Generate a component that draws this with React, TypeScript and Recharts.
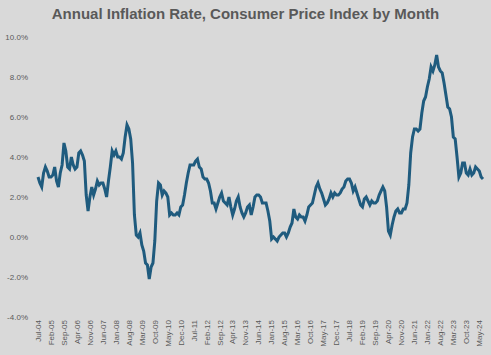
import React from "react";
import { LineChart, Line, XAxis, YAxis } from "recharts";

const MONTHS = ["Jan", "Feb", "Mar", "Apr", "May", "Jun", "Jul", "Aug", "Sep", "Oct", "Nov", "Dec"];

const y2004 = [null, null, null, null, null, null, 3.0, 2.7, 2.5, 3.2, 3.5, 3.3];
const y2005 = [3.0, 3.0, 3.1, 3.5, 2.8, 2.5, 3.2, 3.6, 4.7, 4.3, 3.5, 3.4];
const y2006 = [4.0, 3.6, 3.4, 3.5, 4.2, 4.3, 4.1, 3.8, 2.1, 1.3, 2.0, 2.5];
const y2007 = [2.1, 2.4, 2.8, 2.6, 2.7, 2.7, 2.4, 2.0, 2.8, 3.5, 4.3, 4.1];
const y2008 = [4.3, 4.0, 4.0, 3.9, 4.2, 5.0, 5.6, 5.4, 4.9, 3.7, 1.1, 0.1];
const y2009 = [0.0, 0.2, -0.4, -0.7, -1.3, -1.4, -2.1, -1.5, -1.3, -0.2, 1.8, 2.7];
const y2010 = [2.6, 2.1, 2.3, 2.2, 2.0, 1.1, 1.2, 1.1, 1.1, 1.2, 1.1, 1.5];
const y2011 = [1.6, 2.1, 2.7, 3.2, 3.6, 3.6, 3.6, 3.8, 3.9, 3.5, 3.4, 3.0];
const y2012 = [2.9, 2.9, 2.7, 2.3, 1.7, 1.7, 1.4, 1.7, 2.0, 2.2, 1.8, 1.7];
const y2013 = [1.6, 2.0, 1.5, 1.1, 1.4, 1.8, 2.0, 1.5, 1.2, 1.0, 1.2, 1.5];
const y2014 = [1.6, 1.1, 1.5, 2.0, 2.1, 2.1, 2.0, 1.7, 1.7, 1.7, 1.3, 0.8];
const y2015 = [-0.1, 0.0, -0.1, -0.2, 0.0, 0.1, 0.2, 0.2, 0.0, 0.2, 0.5, 0.7];
const y2016 = [1.4, 1.0, 0.9, 1.1, 1.0, 1.0, 0.8, 1.1, 1.5, 1.6, 1.7, 2.1];
const y2017 = [2.5, 2.7, 2.4, 2.2, 1.9, 1.6, 1.7, 1.9, 2.2, 2.0, 2.2, 2.1];
const y2018 = [2.1, 2.2, 2.4, 2.5, 2.8, 2.9, 2.9, 2.7, 2.3, 2.5, 2.2, 1.9];
const y2019 = [1.6, 1.5, 1.9, 2.0, 1.8, 1.6, 1.8, 1.7, 1.7, 1.8, 2.1, 2.3];
const y2020 = [2.5, 2.3, 1.5, 0.3, 0.1, 0.6, 1.0, 1.3, 1.4, 1.2, 1.2, 1.4];
const y2021 = [1.4, 1.7, 2.6, 4.2, 5.0, 5.4, 5.4, 5.3, 5.4, 6.2, 6.8, 7.0];
const y2022 = [7.5, 7.9, 8.5, 8.3, 8.6, 9.1, 8.5, 8.3, 8.2, 7.7, 7.1, 6.5];
const y2023 = [6.4, 6.0, 5.0, 4.9, 4.0, 3.0, 3.2, 3.7, 3.7, 3.2, 3.1, 3.4];
const y2024 = [3.1, 3.2, 3.5, 3.4, 3.3, 3.0, 2.9, null, null, null, null, null];

const YEARS: [number, (number | null)[]][] = [
  [2004, y2004], [2005, y2005], [2006, y2006], [2007, y2007], [2008, y2008],
  [2009, y2009], [2010, y2010], [2011, y2011], [2012, y2012], [2013, y2013],
  [2014, y2014], [2015, y2015], [2016, y2016], [2017, y2017], [2018, y2018],
  [2019, y2019], [2020, y2020], [2021, y2021], [2022, y2022], [2023, y2023],
  [2024, y2024],
];

const Y_TICKS = [-4, -2, 0, 2, 4, 6, 8, 10];

const data: { month: string; rate: number }[] = [];
YEARS.forEach(([yr, vals]) => {
  vals.forEach((v, i) => {
    if (v !== null) {
      data.push({ month: `${MONTHS[i]}-${String(yr % 100).padStart(2, "0")}`, rate: v });
    }
  });
});

const FONT = "'Liberation Sans', Arial, sans-serif";

const XTick = (props: any) => {
  const { x, y, payload } = props;
  return (
    <text
      x={x}
      y={y}
      transform={`rotate(-90, ${x}, ${y})`}
      textAnchor="end"
      dy="0.35em"
      fontSize={8}
      fill="#595959"
      fontFamily={FONT}
    >
      {payload.value}
    </text>
  );
};

export default function App() {
  return (
    <div style={{ position: "absolute", left: 0, top: 0, width: 491, height: 355, background: "#d9d9d9" }}>
      <div
        style={{
          position: "absolute",
          top: 5,
          left: 0,
          width: 491,
          textAlign: "center",
          fontFamily: FONT,
          fontWeight: "bold",
          fontSize: 15,
          color: "#595959",
        }}
      >
        Annual Inflation Rate, Consumer Price Index by Month
      </div>
      <LineChart
        width={491}
        height={355}
        data={data}
        margin={{ top: 37, right: 6, bottom: 0, left: 0 }}
      >
        <XAxis
          dataKey="month"
          interval={6}
          tickLine={false}
          axisLine={false}
          height={38}
          tick={<XTick />}
          tickMargin={0}
          tickSize={3}
          padding={{ left: 2, right: 2 }}
        />
        <YAxis
          domain={[-4, 10]}
          ticks={Y_TICKS}
          tickFormatter={(v: number) => `${v.toFixed(1)}%`}
          tickLine={false}
          axisLine={false}
          width={36}
          tick={{ fontSize: 8, fill: "#595959", fontFamily: FONT }}
        />
        <Line
          type="linear"
          dataKey="rate"
          stroke="#1f5b7e"
          strokeWidth={3}
          dot={false}
          isAnimationActive={false}
        />
      </LineChart>
    </div>
  );
}
